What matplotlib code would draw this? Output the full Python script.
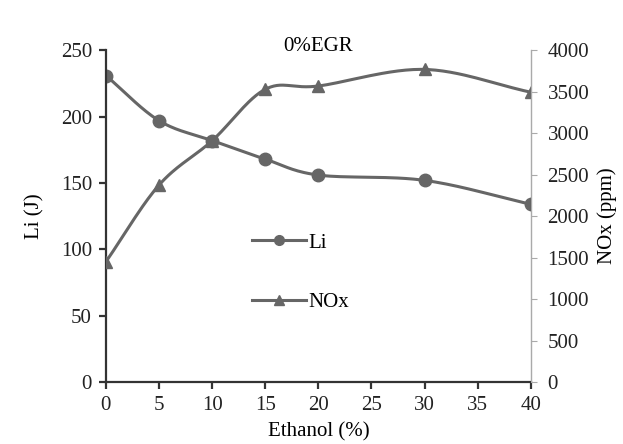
import matplotlib
matplotlib.use('Agg')
import numpy as np
import matplotlib.pyplot as plt

ethanol = [0, 5, 10, 15, 20, 30, 40]
li = [231, 197, 182, 168, 156, 152, 134]
nox = [1450, 2375, 2910, 3530, 3570, 3770, 3495]

plt.rcParams['font.family'] = 'Liberation Serif'
plt.rcParams['font.size'] = 15


def smooth(x, y, n=30):
    # catmull-rom style smoothing like the spreadsheet "smoothed line"
    x = np.asarray(x, float)
    y = np.asarray(y, float)
    px = np.concatenate([[2 * x[0] - x[1]], x, [2 * x[-1] - x[-2]]])
    py = np.concatenate([[2 * y[0] - y[1]], y, [2 * y[-1] - y[-2]]])
    xs, ys = [], []
    t = np.linspace(0, 1, n)
    for i in range(1, len(px) - 2):
        for p, out in ((px, xs), (py, ys)):
            p0, p1, p2, p3 = p[i - 1], p[i], p[i + 1], p[i + 2]
            out.extend(0.5 * (2 * p1 + (-p0 + p2) * t
                              + (2 * p0 - 5 * p1 + 4 * p2 - p3) * t ** 2
                              + (-p0 + 3 * p1 - 3 * p2 + p3) * t ** 3))
    return xs, ys


col = '#666666'
fig = plt.figure(figsize=(6.23, 4.44), dpi=100)
ax = fig.add_axes([0.170, 0.1396, 0.682, 0.747])
ax2 = ax.twinx()

sx, sy = smooth(ethanol, li)
ax.plot(sx, sy, color=col, lw=2.2)
ax.plot(ethanol, li, 'o', color=col, ms=9)
ax.plot([], [], '-o', color=col, lw=2.2, ms=7, label='Li')

sx, sy = smooth(ethanol, nox)
ax2.plot(sx, sy, color=col, lw=2.2)
ax2.plot(ethanol, nox, '^', color=col, ms=9)
ax.plot([], [], '-^', color=col, lw=2.2, ms=7, label='NOx')

ax.set_xlim(0, 40)
ax.set_ylim(0, 250)
ax2.set_ylim(0, 4000)
ax.set_xticks(range(0, 41, 5))
ax.set_yticks(range(0, 251, 50))
ax2.set_yticks(range(0, 4001, 500))

ax.spines['top'].set_visible(False)
ax2.spines['top'].set_visible(False)
for s in ('left', 'bottom'):
    ax.spines[s].set_linewidth(1.6)
    ax.spines[s].set_color('#333333')
ax2.spines['left'].set_visible(False)
ax2.spines['bottom'].set_visible(False)
ax2.spines['right'].set_color('#aaaaaa')
ax2.spines['right'].set_linewidth(0.8)
ax.tick_params(length=5, width=1.6, color='#333333', colors='#222222', pad=5)
ax2.tick_params(length=4, width=0.8, color='#aaaaaa', labelcolor='#222222', pad=8)

ax.set_xlabel('Ethanol (%)', labelpad=5)
ax.set_ylabel('Li (J)', labelpad=12)
ax2.set_ylabel('NOx (ppm)', labelpad=6)
ax.text(0.5, 1.04, '0%EGR', transform=ax.transAxes, ha='center', va='top')

ax.legend(loc='center left', bbox_to_anchor=(0.30, 0.33), frameon=False,
          handlelength=2.6, handletextpad=0.1, labelspacing=1.9)

fig.savefig('out.png')
